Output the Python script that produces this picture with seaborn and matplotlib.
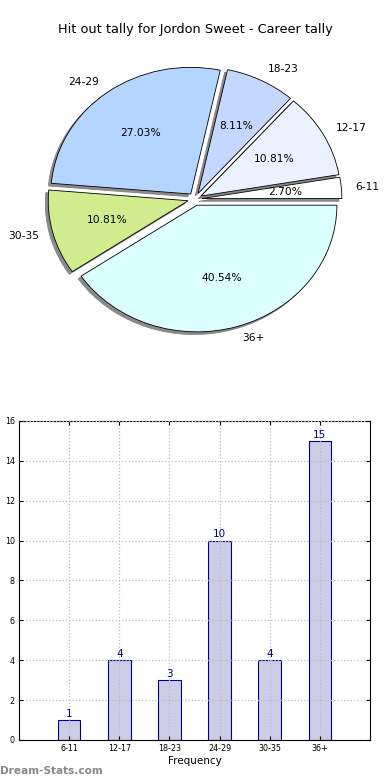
import matplotlib
matplotlib.use("Agg")
import matplotlib.pyplot as plt
import seaborn as sns
import pandas as pd

categories = ["6-11", "12-17", "18-23", "24-29", "30-35", "36+"]
counts = [1, 4, 3, 10, 4, 15]
pie_colors = ["#FFFFFF", "#EBF1FF", "#C4D8FF", "#B4D5FF", "#D0EC8E", "#DCFFFF"]
title = "Hit out tally for Jordon Sweet - Career tally"
ylabel = "Stat Count Tally"
xlabel = "Frequency"
watermark = "Dream-Stats.com"

sns.set_style("white")
plt.rcParams["font.family"] = ["DejaVu Sans"]
plt.rcParams["text.color"] = "black"
plt.rcParams["axes.labelcolor"] = "black"
plt.rcParams["xtick.color"] = "black"
plt.rcParams["ytick.color"] = "black"

fig = plt.figure(figsize=(3.9, 7.8), dpi=100)

# Pie
ax1 = fig.add_axes([0.0513, 0.5417, 0.897, 0.406])
wedges, texts, autotexts = ax1.pie(
    counts, labels=categories, colors=pie_colors, explode=[0.05] * len(counts),
    autopct="%1.2f%%",
    shadow={"ox": -0.015, "oy": -0.015, "facecolor": "#777777",
            "edgecolor": "#777777", "alpha": 0.85},
    startangle=0, counterclock=True,
    wedgeprops=dict(edgecolor="black", linewidth=0.6),
    textprops=dict(fontsize=7.7, color="black"))
ax1.set_aspect("auto")
ax1.set_xlim(-1.25, 1.25)
ax1.set_ylim(-1.25, 1.25)
fig.text(0.5, 1 - 30 / 780, title, ha="center", va="center", fontsize=9.3,
         color="black")

# Bars
ax2 = fig.add_axes([0.0487, 0.0513, 0.9, 0.409])
df = pd.DataFrame({"cat": categories, "count": counts})
sns.barplot(data=df, x="cat", y="count", order=categories, ax=ax2,
            color="#CCCCE6", edgecolor="#000080", linewidth=0.8,
            width=0.45, saturation=1)
for c in ax2.containers:
    ax2.bar_label(c, padding=1, color="#000080", fontsize=7.5)
ax2.set_xlim(-1, 6)
ax2.set_ylim(0, 16)
ax2.set_yticks(range(0, 17, 2))
ax2.grid(True, linestyle=":", color="#BBBBBB", linewidth=0.9)
ax2.set_axisbelow(False)
for s in ax2.spines.values():
    s.set_visible(True)
    s.set_color("black")
    s.set_linewidth(0.8)
ax2.tick_params(axis="both", labelsize=5.8, direction="in", length=3,
                top=True, right=True, bottom=True, left=True, pad=3)
ax2.set_xlabel(xlabel, fontsize=7.5, labelpad=2)
ax2.set_ylabel(ylabel, fontsize=7.5)
ax2.yaxis.set_label_coords(-0.06, 0.5)

fig.text(0.0, 1 - 771 / 780, watermark, ha="left", va="center",
         fontsize=7.6, color="#888888", fontweight="bold")

fig.savefig("out.png", dpi=100)
